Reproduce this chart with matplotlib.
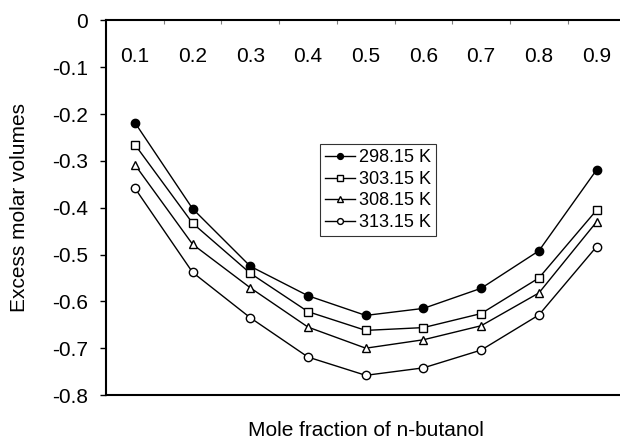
import numpy as np
import matplotlib
matplotlib.use('Agg')
import matplotlib.pyplot as plt

plt.rcParams['font.family'] = ['Liberation Sans', 'DejaVu Sans']
plt.rcParams['axes.unicode_minus'] = False

# data
x_labels = ['0.1', '0.2', '0.3', '0.4', '0.5', '0.6', '0.7', '0.8', '0.9']
v298 = [-0.218, -0.402, -0.525, -0.588, -0.630, -0.615, -0.572, -0.492, -0.319]
v303 = [-0.265, -0.433, -0.540, -0.622, -0.662, -0.656, -0.626, -0.550, -0.405]
v308 = [-0.308, -0.478, -0.571, -0.655, -0.700, -0.682, -0.652, -0.582, -0.430]
v313 = [-0.358, -0.538, -0.635, -0.719, -0.758, -0.742, -0.704, -0.629, -0.483]
series_labels = ['298.15 K', '303.15 K', '308.15 K', '313.15 K']
y_ticks = [0, -0.1, -0.2, -0.3, -0.4, -0.5, -0.6, -0.7, -0.8]
y_ticklabels = ['0', '-0.1', '-0.2', '-0.3', '-0.4', '-0.5', '-0.6', '-0.7', '-0.8']

x = np.arange(len(x_labels))

fig = plt.figure(figsize=(6.2, 4.44), dpi=100)
ax = fig.add_axes([106/620, 1 - 395/444, 1 - 106/620, (395 - 20.5)/444])

style = dict(color='black', lw=1.0, ms=6, mec='black', mew=1.0)
ax.plot(x, v298, marker='o', mfc='black', label=series_labels[0], **style)
ax.plot(x, v303, marker='s', mfc='white', label=series_labels[1], **style)
ax.plot(x, v308, marker='^', mfc='white', label=series_labels[2], **style)
ax.plot(x, v313, marker='o', mfc='white', label=series_labels[3], **style)

ax.set_xlim(-0.5, 8.405)
ax.set_ylim(-0.8, 0)

ax.set_yticks(y_ticks)
ax.set_yticklabels(y_ticklabels)
ax.tick_params(axis='y', direction='out', length=4, width=1, pad=9, labelsize=15)

# category labels sit just under the top spine
ax.xaxis.tick_top()
ax.set_xticks(x)
ax.set_xticklabels(x_labels)
ax.set_xticks(x[:-1] + 0.5, minor=True)
ax.tick_params(axis='x', which='major', length=0, pad=-33, labelsize=15)
ax.tick_params(axis='x', which='minor', direction='in', length=3, width=0.8, color='gray')

for s in ['left', 'top', 'bottom']:
    ax.spines[s].set_linewidth(1.5)
ax.spines['right'].set_visible(False)

ax.set_ylabel('Excess molar volumes', fontsize=15)
ax.yaxis.set_label_coords(-0.15, 0.5)
fig.text(366/620, 1 - 430/444, 'Mole fraction of n-butanol', fontsize=15,
         ha='center', va='center')

leg = ax.legend(loc='upper left', bbox_to_anchor=(320/620, 1 - 144/444),
                bbox_transform=fig.transFigure, fontsize=13, frameon=True,
                fancybox=False, handlelength=1.65, handletextpad=0.2,
                labelspacing=0.25, borderpad=0.3, borderaxespad=0,
                markerscale=0.7)
leg.get_frame().set_edgecolor('black')
leg.get_frame().set_linewidth(0.8)

fig.savefig('out.png', dpi=100)
